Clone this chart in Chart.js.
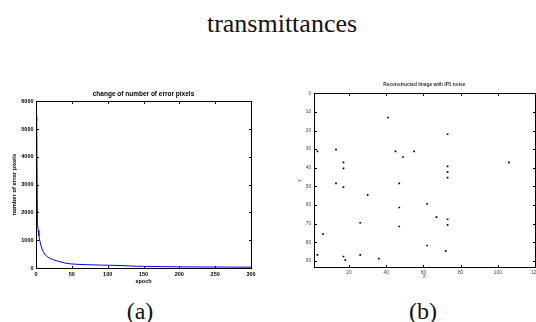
<!DOCTYPE html>
<html>
<head>
<meta charset="utf-8">
<script src="https://cdn.jsdelivr.net/npm/chart.js@4.4.0/dist/chart.umd.min.js"></script>
<style>
  html, body { margin: 0; padding: 0; width: 536px; height: 322px; overflow: hidden; background: #fff; }
  .cap { position: absolute; font-family: "Liberation Serif", "Times New Roman", serif; line-height: 1; color: #111; white-space: nowrap; transform: translateX(-50%); }
  canvas { position: absolute; }
  .frame { position: absolute; box-sizing: border-box; border: 1px solid #000; pointer-events: none; }
  .tk { position: absolute; background: #000; pointer-events: none; }
</style>
</head>
<body>
<div class="cap" style="left:282px; top:11px; font-size:26px;">transmittances</div>
<div class="cap" style="left:140px; top:299px; font-size:24px;">(a)</div>
<div class="cap" style="left:423px; top:299px; font-size:24px;">(b)</div>
<canvas id="chartA" width="270" height="210" style="left:0; top:80px;"></canvas>
<canvas id="chartB" width="270" height="210" style="left:280px; top:75px;"></canvas>
<script>
// (a) error pixels per epoch
const epochs = [0, 1, 2, 3, 4, 6, 8, 10, 12, 15, 20, 25, 30, 35, 40, 45, 50, 60, 70, 80, 90, 100, 110, 120, 130, 140, 150, 175, 200, 225, 250, 275, 300];
const errorPixels = [5450, 5300, 1620, 1350, 1150, 900, 720, 600, 500, 420, 340, 290, 250, 215, 180, 160, 145, 130, 120, 112, 105, 100, 95, 85, 75, 65, 58, 50, 42, 38, 35, 32, 30];
const xTicksA = [0, 50, 100, 150, 200, 250, 300];
const yTicksA = [0, 1000, 2000, 3000, 4000, 5000, 6000];

// (b) reconstructed points
const pointX = [41, 73, 3, 13, 45, 55, 49, 17, 17, 73, 73, 73, 106, 13, 17, 47, 30, 62, 47, 67, 73, 73, 26, 47, 6, 62, 72, 3, 26, 17, 18, 36];
const pointY = [13, 22, 31.2, 30.3, 31.2, 31.2, 34.2, 37.1, 40.3, 39.2, 42.3, 45.3, 37.1, 48.4, 50.4, 48.4, 54.5, 59.3, 61.3, 66.5, 67.6, 70.6, 69.5, 71.5, 75.6, 81.7, 84.6, 86.7, 86.7, 87.6, 89.6, 88.7];
const xTicksB = [20, 40, 60, 80, 100, 120];
const yTicksB = [0, 10, 20, 30, 40, 50, 60, 70, 80, 90];

// matlab-style box with inward ticks, placed over the chart from its scales
function addBox(chart, offX, offY) {
  const a = chart.chartArea;
  const sx = chart.scales.x, sy = chart.scales.y;
  const l = Math.round(a.left), t = Math.round(a.top);
  const r = Math.round(a.right), b = Math.round(a.bottom);
  const put = (cls, x, y, w, h) => {
    const d = document.createElement('div');
    d.className = cls;
    d.style.left = (offX + x) + 'px';
    d.style.top = (offY + y) + 'px';
    d.style.width = w + 'px';
    d.style.height = h + 'px';
    document.body.appendChild(d);
  };
  put('frame', l, t, r - l + 1, b - t + 1);
  sx.ticks.forEach(tk => {
    const px = Math.round(sx.getPixelForValue(tk.value));
    put('tk', px, b - 2, 1, 2);
    put('tk', px, t + 1, 1, 2);
  });
  sy.ticks.forEach(tk => {
    const py = Math.round(sy.getPixelForValue(tk.value));
    put('tk', l + 1, py, 2, 1);
    put('tk', r - 2, py, 2, 1);
  });
}

const fontA = { family: 'Liberation Sans', size: 5.5, weight: 'bold', lineHeight: 1.2 };
const fontB = { family: 'Liberation Sans', size: 4.8, lineHeight: 1.2 };
const plain = v => String(v);

const chartA = new Chart(document.getElementById('chartA'), {
  type: 'line',
  data: {
    datasets: [{
      data: epochs.map((e, i) => ({ x: e, y: errorPixels[i] })),
      borderColor: '#0000ff',
      borderWidth: 1,
      pointRadius: 0,
      tension: 0
    }]
  },
  options: {
    responsive: false,
    animation: false,
    devicePixelRatio: 1,
    layout: { padding: { left: 0, right: 19, top: 0, bottom: 0 } },
    plugins: {
      legend: { display: false },
      tooltip: { enabled: false },
      title: {
        display: true,
        text: 'change of number of error pixels',
        fullSize: false,
        color: '#000',
        font: { family: 'Liberation Sans', size: 6.5, weight: 'bold', lineHeight: 1.2 },
        padding: { top: 10, bottom: 3.5 }
      }
    },
    scales: {
      x: {
        type: 'linear',
        min: 0,
        max: 300,
        afterBuildTicks: s => { s.ticks = xTicksA.map(v => ({ value: v })); },
        afterFit: s => { s.height = 22; },
        grid: { display: false, drawTicks: false },
        border: { display: false },
        ticks: { padding: 3, color: '#000', font: fontA, maxRotation: 0, autoSkip: false, callback: plain },
        title: { display: true, text: 'epoch', color: '#000', font: fontA, padding: { top: 0, bottom: 5.5 } }
      },
      y: {
        min: 0,
        max: 6000,
        afterBuildTicks: s => { s.ticks = yTicksA.map(v => ({ value: v })); },
        afterFit: s => { s.width = 36; },
        grid: { display: false, drawTicks: false },
        border: { display: false },
        ticks: { padding: 2.5, color: '#000', font: fontA, autoSkip: false, callback: plain },
        title: { display: true, text: 'number of error pixels', color: '#000', font: { family: 'Liberation Sans', size: 5.8, weight: 'bold', lineHeight: 1.2 }, padding: { top: 11, bottom: 0 } }
      }
    }
  }
});
addBox(chartA, 0, 80);

const chartB = new Chart(document.getElementById('chartB'), {
  type: 'scatter',
  data: {
    datasets: [{
      data: pointX.map((x, i) => ({ x: x, y: pointY[i] })),
      pointStyle: 'rect',
      pointRadius: 1.2,
      backgroundColor: '#000',
      borderColor: '#000',
      borderWidth: 0
    }]
  },
  options: {
    responsive: false,
    animation: false,
    devicePixelRatio: 1,
    layout: { padding: { left: 0, right: 15, top: 0, bottom: 0 } },
    plugins: {
      legend: { display: false },
      tooltip: { enabled: false },
      title: {
        display: true,
        text: 'Reconstructed Image with IP1 noise',
        fullSize: false,
        color: '#333',
        font: { family: 'Liberation Sans', size: 4.8, lineHeight: 1.2 },
        padding: { top: 7.2, bottom: 5.3 }
      }
    },
    scales: {
      x: {
        type: 'linear',
        min: 1,
        max: 120,
        afterBuildTicks: s => { s.ticks = xTicksB.map(v => ({ value: v })); },
        afterFit: s => { s.height = 17.7; },
        grid: { display: false, drawTicks: false },
        border: { display: false },
        ticks: { padding: 2, color: '#444', font: fontB, maxRotation: 0, autoSkip: false, callback: plain },
        title: { display: true, text: 'X', color: '#444', font: fontB, padding: { top: 0, bottom: 5.3 } }
      },
      y: {
        min: 0,
        max: 93.4,
        reverse: true,
        afterBuildTicks: s => { s.ticks = yTicksB.map(v => ({ value: v })); },
        afterFit: s => { s.width = 33.7; },
        grid: { display: false, drawTicks: false },
        border: { display: false },
        ticks: { padding: 2.5, color: '#444', font: fontB, autoSkip: false, callback: plain },
        title: { display: true, text: 'Y', color: '#444', font: fontB, padding: { top: 18, bottom: 0 } }
      }
    }
  }
});
addBox(chartB, 280, 75);
</script>
</body>
</html>
